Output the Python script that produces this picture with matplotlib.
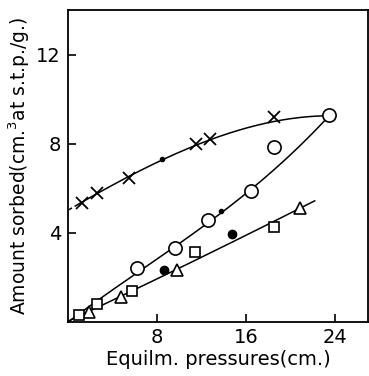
import numpy as np
import matplotlib
matplotlib.use("Agg")
import matplotlib.pyplot as plt

# Data
cross_x = [1.23, 2.58, 5.48, 11.5, 12.76, 18.5]
cross_y = [5.31, 5.76, 6.47, 7.97, 8.19, 9.19]
circle_x = [6.17, 9.62, 12.6, 16.5, 18.5, 23.5]
circle_y = [2.41, 3.30, 4.58, 5.85, 7.85, 9.26]
tri_x = [1.92, 4.76, 9.77, 20.85]
tri_y = [0.42, 1.11, 2.33, 5.10]
sq_x = [1.02, 2.64, 5.72, 11.4, 18.5]
sq_y = [0.29, 0.77, 1.36, 3.12, 4.24]
dot_x = [8.66, 14.77]
dot_y = [2.33, 3.94]
small_dot_x = [8.48, 13.8]
small_dot_y = [7.32, 4.95]

# Smooth curve anchor points (as drawn in the reference)
upper_curve_x = [0.0, 1.23, 5.48, 8.48, 12.76, 18.5, 23.5]
upper_curve_y = [5.02, 5.35, 6.47, 7.30, 8.19, 8.95, 9.26]
middle_curve_x = [0.0, 4.0, 8.0, 12.6, 16.5, 20.0, 23.5]
middle_curve_y = [0.0, 1.35, 2.85, 4.45, 5.95, 7.45, 9.26]
lower_curve_x = [0.0, 5.72, 9.77, 15.0, 22.2]
lower_curve_y = [0.0, 1.38, 2.35, 3.60, 5.43]

xticks = [8, 16, 24]
yticks = [4, 8, 12]

fig = plt.figure(figsize=(3.69, 3.76), dpi=100)
ax = fig.add_axes([68/369, 1 - 321.5/376, 300/369, 311.5/376])

def smooth(xs, ys, deg, x0, x1):
    c = np.polyfit(xs, ys, deg)
    xx = np.linspace(x0, x1, 200)
    return xx, np.polyval(c, xx)

lw = 1.1
xx, yy = smooth(upper_curve_x, upper_curve_y, 3, 1.0, upper_curve_x[-1])
ax.plot(xx, yy, color='black', lw=lw)
xx, yy = smooth(upper_curve_x, upper_curve_y, 3, 0.0, 1.0)
ax.plot(xx, yy, color='black', lw=lw, ls=(0, (3, 2)))
xx, yy = smooth(middle_curve_x, middle_curve_y, 3, 0.0, middle_curve_x[-1])
ax.plot(xx, yy, color='black', lw=lw)
xx, yy = smooth(lower_curve_x, lower_curve_y, 2, 0.0, lower_curve_x[-1])
ax.plot(xx, yy, color='black', lw=lw)

ax.plot(cross_x, cross_y, 'x', color='black', ms=8, mew=1.3, ls='none')
ax.plot(circle_x, circle_y, 'o', mfc='white', mec='black', ms=9.5, mew=1.2, ls='none')
ax.plot(tri_x, tri_y, '^', mfc='white', mec='black', ms=8, mew=1.2, ls='none')
ax.plot(sq_x, sq_y, 's', mfc='white', mec='black', ms=7, mew=1.2, ls='none')
ax.plot(dot_x, dot_y, 'o', color='black', ms=6, ls='none')
ax.plot(small_dot_x, small_dot_y, 'o', color='black', ms=3, ls='none')

ax.set_xlim(0, 27)
ax.set_ylim(0, 14)
ax.set_xticks(xticks)
ax.set_yticks(yticks)
ax.tick_params(direction='in', length=6, width=1.2, labelsize=14, pad=5)
for s in ax.spines.values():
    s.set_linewidth(1.3)
ax.set_xlabel('Equilm. pressures(cm.)', fontsize=14, labelpad=2)
ax.set_ylabel('Amount sorbed(cm.$^3$at s.t.p./g.)', fontsize=13.5, labelpad=3)

fig.savefig('out.png', dpi=100)
